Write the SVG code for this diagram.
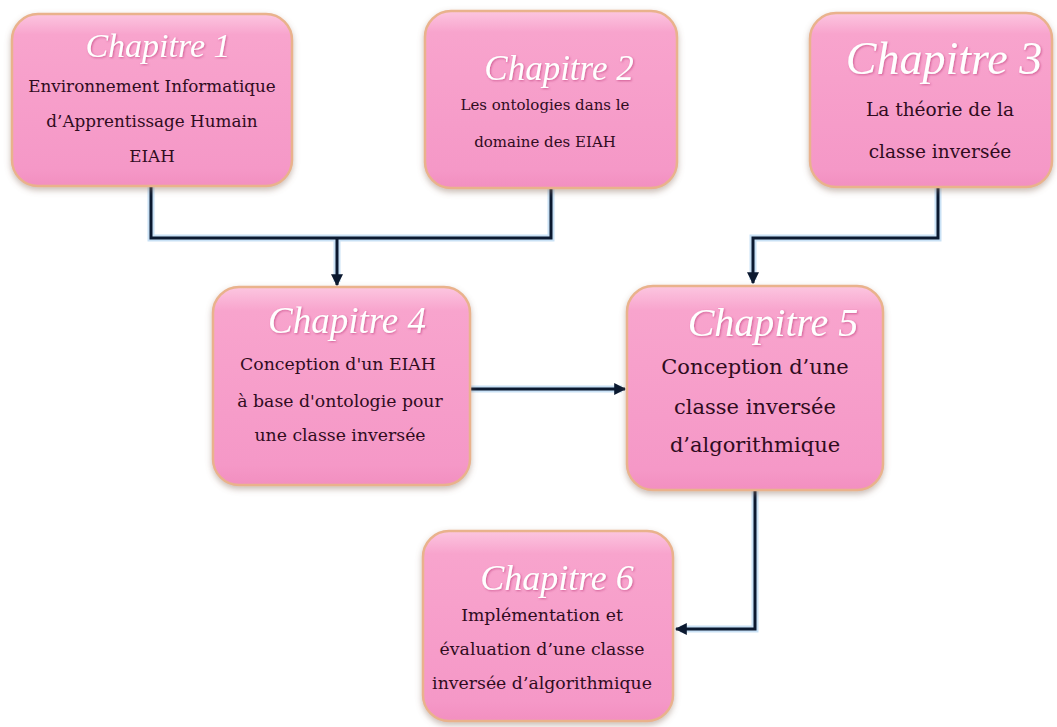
<svg xmlns="http://www.w3.org/2000/svg" width="1057" height="727" viewBox="0 0 1057 727">
  <defs>
    <linearGradient id="boxFill" x1="0" y1="0" x2="0" y2="1">
      <stop offset="0" stop-color="#fcc6e0"/>
      <stop offset="0.12" stop-color="#f8a4cd"/>
      <stop offset="0.9" stop-color="#f598c7"/>
      <stop offset="1" stop-color="#f28fc0"/>
    </linearGradient>
    <filter id="boxShadow" x="-10%" y="-10%" width="120%" height="125%">
      <feGaussianBlur in="SourceAlpha" stdDeviation="3"/>
      <feOffset dx="0" dy="3" result="b"/>
      <feFlood flood-color="#8a6a5a" flood-opacity="0.45"/>
      <feComposite in2="b" operator="in"/>
      <feMerge><feMergeNode/><feMergeNode in="SourceGraphic"/></feMerge>
    </filter>
    <filter id="titleGlow" x="-10%" y="-20%" width="120%" height="140%">
      <feGaussianBlur in="SourceAlpha" stdDeviation="1.2"/>
      <feOffset dx="1" dy="1" result="b"/>
      <feFlood flood-color="#c0407e" flood-opacity="0.7"/>
      <feComposite in2="b" operator="in"/>
      <feMerge><feMergeNode/><feMergeNode in="SourceGraphic"/></feMerge>
    </filter>
    <marker id="arrow" viewBox="0 0 10 10" refX="9" refY="5" markerWidth="4" markerHeight="4" orient="auto-start-reverse" markerUnits="strokeWidth">
      <path d="M0,0 L10,5 L0,10 z" fill="#0b1930"/>
    </marker>
    <style>
      .box { fill: url(#boxFill); stroke: #e9b28c; stroke-width: 2.5; filter: url(#boxShadow); }
      .title { font-family: "Liberation Serif", "DejaVu Serif", serif; font-style: italic; fill: #ffffff; text-anchor: middle; filter: url(#titleGlow); }
      .body { font-family: "DejaVu Serif", "Liberation Serif", serif; fill: #300c1e; text-anchor: middle; }
      .glow { fill: none; stroke: #bcd9f3; stroke-width: 7; stroke-linejoin: miter; opacity: 0.8; }
      .wire { fill: none; stroke: #0b1930; stroke-width: 3; stroke-linejoin: miter; }
    </style>
  </defs>

  <rect width="1057" height="727" fill="#ffffff"/>

  <!-- connectors -->
  <g id="connectors">
    <path class="glow" d="M151,186 V238 H551 V188 M337,238 V282"/>
    <path class="glow" d="M938,187 V238 H753 V280"/>
    <path class="glow" d="M470,389 H622"/>
    <path class="glow" d="M755,490 V629 H680"/>
    <path class="wire" d="M151,186 V238 H551 V188"/>
    <path class="wire" d="M337,238 V285" marker-end="url(#arrow)"/>
    <path class="wire" d="M938,187 V238 H753 V283" marker-end="url(#arrow)"/>
    <path class="wire" d="M470,389 H625" marker-end="url(#arrow)"/>
    <path class="wire" d="M755,490 V629 H676" marker-end="url(#arrow)"/>
  </g>

  <!-- Chapitre 1 -->
  <g id="chapitre1">
    <rect class="box" x="12" y="14" width="280" height="172" rx="26"/>
    <text class="title" x="158" y="57" font-size="34">Chapitre 1</text>
    <text class="body" x="152" y="92" font-size="16.8">Environnement Informatique</text>
    <text class="body" x="152" y="127" font-size="16.8">d’Apprentissage Humain</text>
    <text class="body" x="152" y="162" font-size="16.8">EIAH</text>
  </g>

  <!-- Chapitre 2 -->
  <g id="chapitre2">
    <rect class="box" x="425" y="11" width="252" height="177" rx="26"/>
    <text class="title" x="559" y="80" font-size="35">Chapitre 2</text>
    <text class="body" x="545" y="110" font-size="15">Les ontologies dans le</text>
    <text class="body" x="545" y="147" font-size="15">domaine des EIAH</text>
  </g>

  <!-- Chapitre 3 -->
  <g id="chapitre3">
    <rect class="box" x="810" y="13" width="242" height="174" rx="26"/>
    <text class="title" x="944" y="74" font-size="46">Chapitre 3</text>
    <text class="body" x="940" y="116" font-size="18.5">La théorie de la</text>
    <text class="body" x="940" y="158" font-size="18.5">classe inversée</text>
  </g>

  <!-- Chapitre 4 -->
  <g id="chapitre4">
    <rect class="box" x="213" y="287" width="257" height="198" rx="26"/>
    <text class="title" x="347" y="333" font-size="37">Chapitre 4</text>
    <text class="body" x="338" y="370" font-size="17.3">Conception d'un EIAH</text>
    <text class="body" x="340" y="407" font-size="17.3">à base d'ontologie pour</text>
    <text class="body" x="340" y="441" font-size="17.3">une classe inversée</text>
  </g>

  <!-- Chapitre 5 -->
  <g id="chapitre5">
    <rect class="box" x="627" y="286" width="256" height="204" rx="26"/>
    <text class="title" x="773" y="336" font-size="40">Chapitre 5</text>
    <text class="body" x="755" y="374" font-size="21">Conception d’une</text>
    <text class="body" x="755" y="414" font-size="21">classe inversée</text>
    <text class="body" x="755" y="452" font-size="21">d’algorithmique</text>
  </g>

  <!-- Chapitre 6 -->
  <g id="chapitre6">
    <rect class="box" x="423" y="531" width="250" height="190" rx="26"/>
    <text class="title" x="557" y="590" font-size="36">Chapitre 6</text>
    <text class="body" x="542" y="621" font-size="17.3">Implémentation et</text>
    <text class="body" x="542" y="655" font-size="17.3">évaluation d’une classe</text>
    <text class="body" x="542" y="689" font-size="17.3">inversée d’algorithmique</text>
  </g>
</svg>
